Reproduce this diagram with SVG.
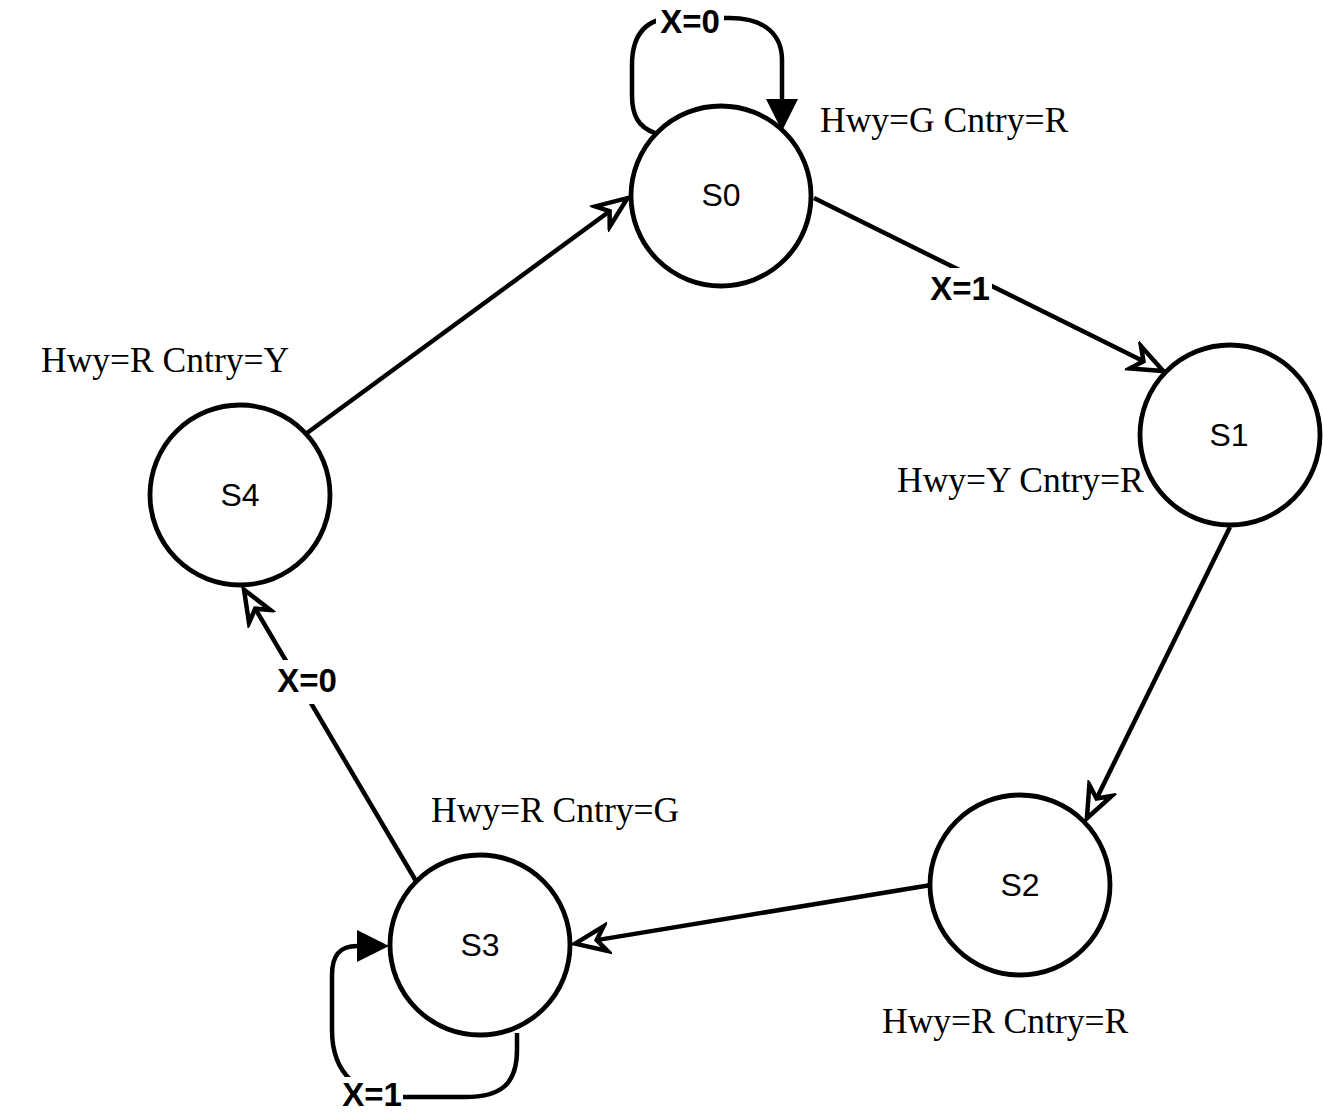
<svg xmlns="http://www.w3.org/2000/svg" width="1323" height="1116" viewBox="0 0 1323 1116">
<style>
.state{fill:#ffffff;stroke:#000000;stroke-width:4.8}
.sl{font-family:"Liberation Sans",Arial,sans-serif;font-size:32px;fill:#000000;text-anchor:middle}
.el{font-family:"Liberation Sans",Arial,sans-serif;font-size:33px;font-weight:bold;fill:#000000;text-anchor:middle}
.out{font-family:"Liberation Serif","Times New Roman",serif;font-size:35.5px;fill:#000000}
.edge{fill:none;stroke:#000000;stroke-width:4.5}
.lbg{fill:#ffffff;stroke:none}
</style>
<defs>
<marker id="open" markerUnits="userSpaceOnUse" viewBox="-3 -3 42 34" markerWidth="42" markerHeight="34" refX="10" refY="14" orient="auto">
<path d="M32,14 L1,1.5 L10,14 L1,26.5 Z" fill="#ffffff" stroke="#000000" stroke-width="4.5" stroke-linejoin="miter"/>
</marker>
<marker id="block" markerUnits="userSpaceOnUse" viewBox="0 0 32 32" markerWidth="32" markerHeight="32" refX="0" refY="16" orient="auto">
<path d="M0,0 L32,16 L0,32 Z" fill="#000000"/>
</marker>
</defs>
<g id="connectors">
<g id="e-s0-s0">
<path class="edge" d="M655 133 C638 127 632 115 632 95 L632 65 C632 35 645 18 675 18 L730 18 C765 18 782 35 782 60 L782 99" marker-end="url(#block)"/>
<rect class="lbg" x="656" y="0" width="68" height="40"/>
<text class="el" x="690" y="33">X=0</text>
</g>
<g id="e-s0-s1">
<path class="edge" d="M814 198 L1143.5 361.3" marker-end="url(#open)"/>
<rect class="lbg" x="928" y="268" width="64" height="38"/>
<text class="el" x="960" y="300">X=1</text>
</g>
<g id="e-s1-s2">
<path class="edge" d="M1230 527 L1096.6 798.5" marker-end="url(#open)"/>
</g>
<g id="e-s2-s3">
<path class="edge" d="M931 885 L596.7 940.1" marker-end="url(#open)"/>
</g>
<g id="e-s3-s3">
<path class="edge" d="M517 1033 L517 1050 C517 1085 500 1097 465 1097 L400 1097 C360 1097 332 1075 332 1030 L332 975 C332 955 340 946 357 946" marker-end="url(#block)"/>
<rect class="lbg" x="342" y="1077" width="61" height="39"/>
<text class="el" x="372" y="1106">X=1</text>
</g>
<g id="e-s3-s4">
<path class="edge" d="M416 881 L255.2 608.7" marker-end="url(#open)"/>
<rect class="lbg" x="274" y="660" width="66" height="44"/>
<text class="el" x="307" y="692">X=0</text>
</g>
<g id="e-s4-s0">
<path class="edge" d="M307 433 L609.6 211.2" marker-end="url(#open)"/>
</g>
</g>
<g id="S0">
<circle class="state" cx="721" cy="196" r="90"/>
<text class="sl" x="721" y="206">S0</text>
</g>
<g id="S1">
<circle class="state" cx="1230" cy="435" r="90"/>
<text class="sl" x="1229" y="446">S1</text>
</g>
<g id="S2">
<circle class="state" cx="1020" cy="885" r="90"/>
<text class="sl" x="1020" y="896">S2</text>
</g>
<g id="S3">
<circle class="state" cx="480" cy="945" r="90"/>
<text class="sl" x="480" y="956">S3</text>
</g>
<g id="S4">
<circle class="state" cx="240" cy="495" r="90"/>
<text class="sl" x="240" y="506">S4</text>
</g>
<g id="outputs">
<text class="out" x="820" y="132">Hwy=G Cntry=R</text>
<text class="out" x="897" y="492">Hwy=Y Cntry=R</text>
<text class="out" x="41" y="372">Hwy=R Cntry=Y</text>
<text class="out" x="431" y="822">Hwy=R Cntry=G</text>
<text class="out" x="882" y="1033">Hwy=R Cntry=R</text>
</g>
</svg>
